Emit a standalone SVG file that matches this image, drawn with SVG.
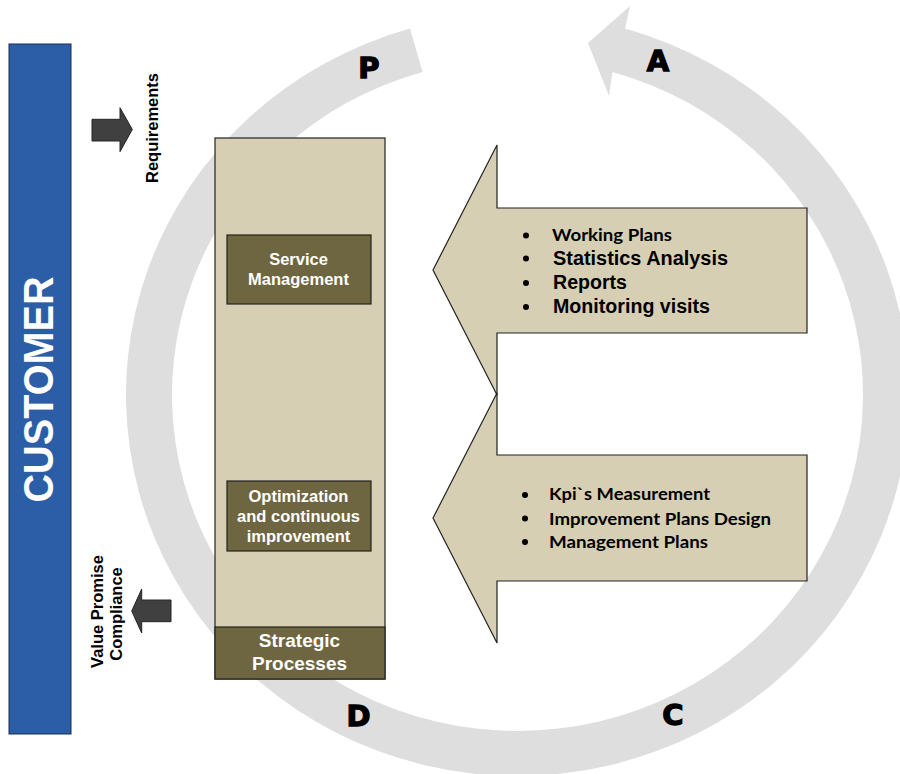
<svg xmlns="http://www.w3.org/2000/svg" width="900" height="774" viewBox="0 0 900 774">
  <style>
    .arial { font-family: "Liberation Sans", Arial, sans-serif; font-weight: bold; }
    .cal { font-family: Lato, "Open Sans", sans-serif; font-weight: bold; font-size: 17px; fill: #000; }
    .big { font-family: "Liberation Sans", Arial, sans-serif; font-weight: bold; font-size: 19.5px; fill: #000; }
    .white { fill: #fff; }
    .tan { fill: #d6cfb4; stroke: #222; stroke-width: 1.2; }
    .olive { fill: #6e6640; stroke: #222; stroke-width: 1.2; }
    .dark { fill: #404040; stroke: #262626; stroke-width: 1; }
    .pdca { font-family: "DejaVu Sans", sans-serif; font-weight: bold; font-size: 29px; fill: #000; stroke: #000; stroke-width: 1.3; text-anchor: middle; }
  </style>

  <!-- PDCA cycle ring -->
  <g id="cycle">
    <path d="M 625 28.6 A 391.5 381 0 1 1 410 28.6 L 422.6 71.9 A 345.5 336 0 1 0 612.4 71.9 L 609 96 L 588 43 L 630 6 Z" fill="#dedede"/>
    <text class="pdca" x="369" y="78">P</text>
    <text class="pdca" x="658" y="71">A</text>
    <text class="pdca" x="358.5" y="726">D</text>
    <text class="pdca" x="673" y="725">C</text>
  </g>

  <!-- Customer -->
  <g id="customer">
    <rect x="9" y="44" width="62" height="690" fill="#2b5ea7" stroke="#1a2f55" stroke-width="1"/>
    <text class="arial white" font-size="42" text-anchor="middle" textLength="226" lengthAdjust="spacingAndGlyphs" transform="translate(53,389.5) rotate(-90)">CUSTOMER</text>
  </g>

  <!-- Connectors -->
  <g id="connectors">
    <path class="dark" d="M 92 119.3 L 120 119.3 L 120 107.7 L 132.3 129.5 L 120 151.7 L 120 141 L 92 141 Z"/>
    <path class="dark" d="M 171 600 L 141.7 600 L 141.7 589 L 131.7 611 L 141.7 633 L 141.7 621.7 L 171 621.7 Z"/>
  </g>

  <g id="requirements-label">
    <text class="arial" font-size="16.5" text-anchor="middle" transform="translate(157.5,128) rotate(-90)">Requirements</text>
  </g>

  <g id="value-label">
    <text class="arial" font-size="16.5" text-anchor="middle" transform="translate(102.5,611.5) rotate(-90)">Value Promise</text>
    <text class="arial" font-size="16.5" text-anchor="middle" transform="translate(121.5,614) rotate(-90)">Compliance</text>
  </g>

  <!-- Process column -->
  <g id="process-column">
    <rect class="tan" x="215" y="138" width="170" height="541"/>
  </g>

  <g id="strategic-processes">
    <rect class="olive" x="215" y="627" width="170" height="52"/>
    <text class="arial white" font-size="19" text-anchor="middle" x="299.5" y="647">Strategic</text>
    <text class="arial white" font-size="19" text-anchor="middle" x="299.5" y="670">Processes</text>
  </g>

  <g id="service-management">
    <rect class="olive" x="227" y="235" width="144" height="69"/>
    <text class="arial white" font-size="16.5" text-anchor="middle" x="298.5" y="265">Service</text>
    <text class="arial white" font-size="16.5" text-anchor="middle" x="298.5" y="285">Management</text>
  </g>

  <g id="optimization">
    <rect class="olive" x="227" y="481" width="144" height="70"/>
    <text class="arial white" font-size="16.5" text-anchor="middle" x="298.5" y="502">Optimization</text>
    <text class="arial white" font-size="16.5" text-anchor="middle" x="298.5" y="522">and continuous</text>
    <text class="arial white" font-size="16.5" text-anchor="middle" x="298.5" y="541.5">improvement</text>
  </g>

  <!-- Block arrow 1 -->
  <g id="arrow-plan">
    <path class="tan" d="M 433 270 L 497 145 L 497 208 L 807 208 L 807 333 L 497 333 L 497 395 Z"/>
    <circle cx="526" cy="235.5" r="3"/>
    <circle cx="526" cy="258.5" r="3"/>
    <circle cx="526" cy="283" r="3"/>
    <circle cx="526" cy="307" r="3"/>
    <text class="cal" x="552" y="241" textLength="120" lengthAdjust="spacingAndGlyphs">Working Plans</text>
    <text class="big" x="553" y="265" textLength="175" lengthAdjust="spacingAndGlyphs">Statistics Analysis</text>
    <text class="big" x="553" y="289" textLength="74" lengthAdjust="spacingAndGlyphs">Reports</text>
    <text class="big" x="553" y="313" textLength="157" lengthAdjust="spacingAndGlyphs">Monitoring visits</text>
  </g>

  <!-- Block arrow 2 -->
  <g id="arrow-check">
    <path class="tan" d="M 433 518 L 497 393 L 497 455 L 807 455 L 807 581 L 497 581 L 497 643 Z"/>
    <circle cx="525" cy="495" r="3"/>
    <circle cx="525" cy="518.5" r="3"/>
    <circle cx="525" cy="542" r="3"/>
    <text class="cal" x="549" y="500" textLength="161" lengthAdjust="spacingAndGlyphs">Kpi`s Measurement</text>
    <text class="cal" x="549" y="524.5" textLength="222" lengthAdjust="spacingAndGlyphs">Improvement Plans Design</text>
    <text class="cal" x="549" y="548" textLength="159" lengthAdjust="spacingAndGlyphs">Management Plans</text>
  </g>
</svg>
